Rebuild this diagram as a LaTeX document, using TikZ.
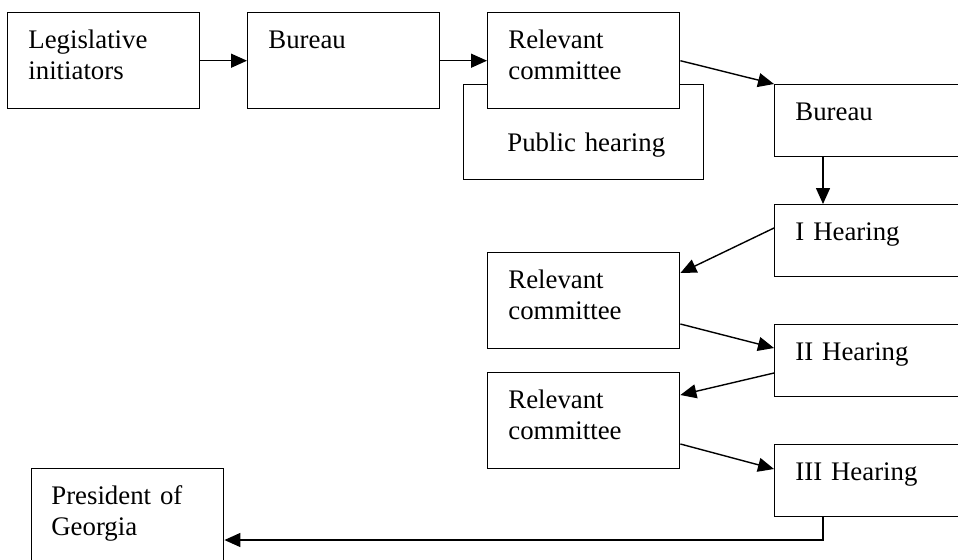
\documentclass[tikz,border=0pt]{standalone}
\usepackage{fontspec}
\setmainfont{Liberation Serif}
\usetikzlibrary{arrows.meta}
\tikzset{
  stage/.style={draw, line width=0.7pt, fill=white, rectangle, anchor=north west,
    minimum width=96pt, minimum height=48pt, inner sep=0pt},
  hearing/.style={stage, minimum height=36pt},
  txt/.style={anchor=base west, align=left, inner sep=0pt, text width=110pt},
  flow/.style={line width=0.7pt, -{Triangle[length=8pt,width=7pt]}}
}

\begin{document}
\begin{tikzpicture}[x=0.5pt, y=-0.5pt, font=\fontsize{13.4}{15.5}\selectfont]
    \useasboundingbox (0,0) rectangle (958,559);
    \clip (0,0) rectangle (958,559);

    % Top row
    \node[stage] (leg) at (7,12) {};
    \node[stage] (bur) at (247,12) {};
    \node[stage, minimum width=120pt, minimum height=47.5pt] (pub) at (463,84) {};
    \node[stage] (rc1) at (487,12) {};

    % Hearings on the right
    \node[hearing] (bur2) at (774,84) {};
    \node[hearing] (hr1) at (774,204) {};
    \node[hearing] (hr2) at (774,324) {};
    \node[hearing] (hr3) at (774,444) {};

    % Committees in between
    \node[stage] (rc2) at (487,252) {};
    \node[stage] (rc3) at (487,372) {};
    \node[stage] (pres) at (31,468) {};

    % Texts
    \node[txt] (legt) at ([shift={(21,36)}]leg.north west) {Legislative\\initiators};
    \node[txt] (burt) at ([shift={(21,36)}]bur.north west) {Bureau};
    \node[txt] (rc1t) at ([shift={(21,36)}]rc1.north west) {Relevant\\committee};
    \node[txt] (pubt) at ([shift={(44,67)}]pub.north west) {Public hearing};
    \node[txt] (bur2t) at ([shift={(21,36)}]bur2.north west) {Bureau};
    \node[txt] (hr1t) at ([shift={(21,36)}]hr1.north west) {I Hearing};
    \node[txt] (hr2t) at ([shift={(21,36)}]hr2.north west) {II Hearing};
    \node[txt] (hr3t) at ([shift={(21,36)}]hr3.north west) {III Hearing};
    \node[txt] (rc2t) at ([shift={(21,36)}]rc2.north west) {Relevant\\committee};
    \node[txt] (rc3t) at ([shift={(21,36)}]rc3.north west) {Relevant\\committee};
    \node[txt] (prest) at ([shift={(20,36)}]pres.north west) {President of\\Georgia};

    % Arrows
    \draw[flow] (leg.east) -- (bur.west);
    \draw[flow] (bur.east) -- (rc1.west);
    \draw[flow] (rc1.east) -- (bur2.north west);
    \draw[flow] ([shift={(49,0)}]bur2.south west) -- ([shift={(49,0)}]hr1.north west);
    \draw[flow] ([shift={(0,24)}]hr1.north west) -- ([shift={(0,21)}]rc2.north east);
    \draw[flow] ([shift={(0,72)}]rc2.north east) -- ([shift={(0,24)}]hr2.north west);
    \draw[flow] ([shift={(0,49)}]hr2.north west) -- ([shift={(0,23)}]rc3.north east);
    \draw[flow] ([shift={(0,72)}]rc3.north east) -- ([shift={(0,25)}]hr3.north west);
    \draw[flow] ([shift={(49,0)}]hr3.south west) |- ([shift={(0,72)}]pres.north east);

\end{tikzpicture}
\end{document}
